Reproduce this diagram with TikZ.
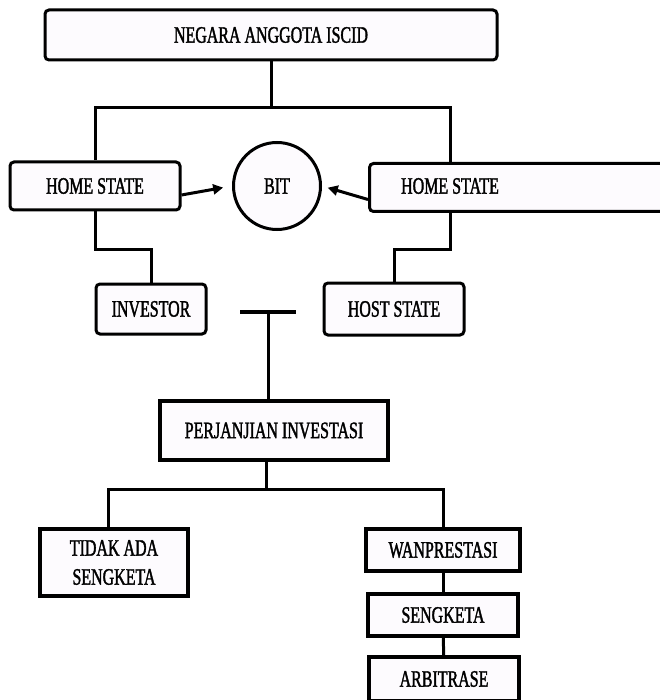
\documentclass[tikz,border=0pt]{standalone}
\usepackage{fontspec}
\setmainfont[FakeStretch=0.68,FakeBold=1.5]{Liberation Serif}
\usetikzlibrary{arrows.meta,positioning,calc}
\definecolor{boxfill}{RGB}{253,251,254}
\tikzset{
	roundbox/.style={draw, line width=3, rounded corners=4, fill=boxfill, align=center, inner sep=0},
	sharpbox/.style={draw, line width=3.5, fill=boxfill, align=center, inner sep=0},
	link/.style={line width=3},
	pointer/.style={line width=3, -{Triangle[length=10,width=10]}}
}
\begin{document}
\begin{tikzpicture}[x=1pt, y=-1pt, font=\fontsize{23.5}{29}\selectfont]

	% frame
	\useasboundingbox (0,0) rectangle (659,700);

	% top
	\node[roundbox, minimum width=452, minimum height=50] (anggota) at (271,35) {NEGARA ANGGOTA ISCID};

	% states and BIT
	\node[roundbox, minimum width=170, minimum height=48] (homeL) at (95,186) {HOME STATE};
	\node[roundbox, anchor=north west, minimum width=352, minimum height=48] (homeR) at (368,162) {};
	\node (homeRtext) at (450,186) {HOME STATE};
	\node[draw, circle, line width=3, fill=boxfill, minimum size=87, inner sep=0] (bit) at (277,186) {BIT};
	\node[roundbox, minimum width=110, minimum height=50] (investor) at (151,309) {INVESTOR};
	\node[roundbox, minimum width=140, minimum height=52] (host) at (394,309) {HOST STATE};

	% agreement
	\node[sharpbox, minimum width=228, minimum height=59] (perjanjian) at (274,430.5) {PERJANJIAN INVESTASI};

	% outcomes
	\node[sharpbox, minimum width=148, minimum height=67] (tidak) at (114,562.5) {TIDAK ADA\\SENGKETA};
	\node[sharpbox, minimum width=154, minimum height=42] (wanprestasi) at (443,550) {WANPRESTASI};
	\node[sharpbox, minimum width=150, minimum height=42] (sengketa) at (443,615) {SENGKETA};
	\node[sharpbox, minimum width=150, minimum height=44] (arbitrase) at (444,679) {ARBITRASE};

	% junctions
	\coordinate (j1) at (271,108);
	\coordinate (jR) at (450,108);
	\coordinate (barL) at (240,312);
	\coordinate (barR) at (296,312);
	\coordinate (barM) at (268,312);
	\coordinate (j2) at (266,489);

	% links from the top
	\draw[link] (anggota.south) -- (j1);
	\draw[link] (homeL.north) |- (jR) -- (jR |- homeR.north);

	% arrows to BIT
	\draw[pointer, shorten >=9] ([yshift=-9]homeL.east) -- (bit.west);
	\draw[pointer, shorten >=6] ([yshift=-12]homeR.west) -- (bit.east);

	% down to investor and host
	\draw[link] (homeL.south) -- ++(0,38) -| (investor.north);
	\draw[link] ([xshift=82]homeR.south west) -- ++(0,37) -| (host.north);

	% T bar
	\draw[line width=4.5] (barL) -- (barR);
	\draw[link] (barM) -- (barM |- perjanjian.north);

	% outcomes
	\draw[link] ([xshift=-8]perjanjian.south) -- (j2);
	\draw[link] ([xshift=-6]tidak.north) |- (j2) -| (wanprestasi.north);
	\draw[link] (wanprestasi) -- (sengketa);
	\draw[link] (sengketa) -- (arbitrase);

\end{tikzpicture}
\end{document}
